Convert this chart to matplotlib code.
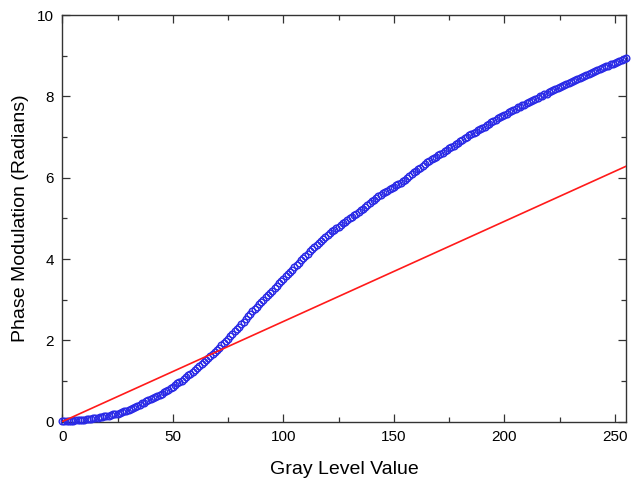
import matplotlib
matplotlib.use("Agg")
import matplotlib.pyplot as plt
from matplotlib.ticker import MultipleLocator

plt.rcParams["font.family"] = ["Liberation Sans", "DejaVu Sans"]

# --------------------------------------------------
# Data
# --------------------------------------------------

gray_levels = list(range(256))

phase_measured = [
    0.02, 0.02, 0.02, 0.02, 0.02, 0.02, 0.03, 0.03, 0.04, 0.04,
    0.05, 0.06, 0.07, 0.07, 0.08, 0.09, 0.10, 0.11, 0.12, 0.13,
    0.14, 0.15, 0.16, 0.18, 0.19, 0.20, 0.22, 0.24, 0.25, 0.27,
    0.29, 0.32, 0.34, 0.37, 0.39, 0.42, 0.45, 0.47, 0.50, 0.52,
    0.55, 0.58, 0.61, 0.63, 0.66, 0.69, 0.72, 0.76, 0.79, 0.83,
    0.86, 0.90, 0.94, 0.97, 1.01, 1.05, 1.09, 1.14, 1.18, 1.23,
    1.27, 1.32, 1.37, 1.42, 1.47, 1.52, 1.57, 1.62, 1.67, 1.72,
    1.77, 1.82, 1.88, 1.93, 1.99, 2.04, 2.10, 2.16, 2.22, 2.28,
    2.34, 2.40, 2.46, 2.53, 2.59, 2.65, 2.71, 2.77, 2.83, 2.89,
    2.95, 3.00, 3.06, 3.11, 3.17, 3.22, 3.28, 3.34, 3.40, 3.46,
    3.52, 3.58, 3.63, 3.69, 3.74, 3.80, 3.86, 3.91, 3.97, 4.02,
    4.08, 4.13, 4.19, 4.24, 4.30, 4.35, 4.40, 4.45, 4.50, 4.55,
    4.60, 4.64, 4.68, 4.72, 4.76, 4.80, 4.84, 4.88, 4.92, 4.96,
    5.00, 5.04, 5.08, 5.12, 5.16, 5.20, 5.24, 5.29, 5.33, 5.38,
    5.42, 5.46, 5.50, 5.54, 5.58, 5.62, 5.65, 5.68, 5.72, 5.75,
    5.78, 5.81, 5.85, 5.88, 5.92, 5.95, 5.99, 6.04, 6.08, 6.13,
    6.17, 6.21, 6.25, 6.30, 6.34, 6.38, 6.41, 6.45, 6.48, 6.52,
    6.55, 6.58, 6.62, 6.65, 6.69, 6.72, 6.76, 6.79, 6.83, 6.86,
    6.90, 6.93, 6.97, 7.00, 7.04, 7.07, 7.10, 7.13, 7.17, 7.20,
    7.23, 7.26, 7.30, 7.33, 7.37, 7.40, 7.43, 7.46, 7.49, 7.52,
    7.55, 7.58, 7.61, 7.64, 7.67, 7.70, 7.73, 7.75, 7.78, 7.80,
    7.83, 7.86, 7.89, 7.91, 7.94, 7.97, 8.00, 8.02, 8.05, 8.07,
    8.10, 8.13, 8.15, 8.18, 8.20, 8.23, 8.25, 8.28, 8.30, 8.33,
    8.35, 8.38, 8.41, 8.43, 8.46, 8.49, 8.51, 8.53, 8.56, 8.58,
    8.60, 8.62, 8.65, 8.67, 8.70, 8.72, 8.74, 8.76, 8.79, 8.81,
    8.83, 8.85, 8.88, 8.90, 8.93, 8.95,
]

# ideal linear response, 0 .. 2*pi
linear_x = [0, 255]
linear_y = [0, 6.283]

# --------------------------------------------------
# Plot
# --------------------------------------------------

fig = plt.figure(figsize=(6.35, 4.88), dpi=100)
ax = fig.add_axes([0.098, 0.136, 0.888, 0.833])

ax.plot(
    gray_levels,
    phase_measured,
    linestyle="none",
    marker="o",
    markersize=4.8,
    markerfacecolor="none",
    markeredgecolor="#2a2ae6",
    markeredgewidth=1.0,
    clip_on=False,
    zorder=3,
)

ax.plot(linear_x, linear_y, color="#ff1a1a", linewidth=1.2, zorder=4)

ax.set_xlim(0, 255)
ax.set_ylim(0, 10)

ax.xaxis.set_major_locator(MultipleLocator(50))
ax.xaxis.set_minor_locator(MultipleLocator(25))
ax.yaxis.set_major_locator(MultipleLocator(2))
ax.yaxis.set_minor_locator(MultipleLocator(1))

ax.tick_params(
    which="both",
    direction="in",
    top=True,
    right=True,
    width=0.9,
    color="#333333",
    labelsize=11,
    pad=6,
)
ax.tick_params(which="major", length=6)
ax.tick_params(which="minor", length=3.5)

for spine in ax.spines.values():
    spine.set_linewidth(1.0)
    spine.set_color("#333333")

ax.set_xlabel("Gray Level Value", fontsize=14, labelpad=12)
ax.set_ylabel("Phase Modulation (Radians)", fontsize=14, labelpad=6)

plt.savefig("out.png", dpi=100)
